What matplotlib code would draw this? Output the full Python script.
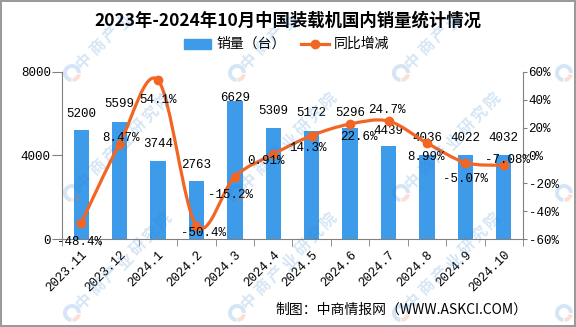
import numpy as np
import matplotlib.pyplot as plt
from matplotlib.path import Path
from matplotlib.patches import PathPatch, Wedge

plt.rcParams['font.family'] = ['Noto Sans CJK SC', 'DejaVu Sans']

months = ['2023.11', '2023.12', '2024.1', '2024.2', '2024.3', '2024.4',
          '2024.5', '2024.6', '2024.7', '2024.8', '2024.9', '2024.10']
sales = [5200, 5599, 3744, 2763, 6629, 5309, 5172, 5296, 4439, 4036, 4022, 4032]
yoy = [-48.4, 8.47, 54.1, -50.4, -15.2, 0.91, 14.3, 22.6, 24.7, 8.99, -5.07, -7.08]
yoy_text = ['-48.4%', '8.47%', '54.1%', '-50.4%', '-15.2%', '0.91%',
            '14.3%', '22.6%', '24.7%', '8.99%', '-5.07%', '-7.08%']

# label offsets in points (dx, dy)
pct_off = [(-1, -14), (1, 4), (0, -14), (5, -5), (-3, -13), (-5, -5),
           (-3, -9), (6, -9), (-1, 8), (-1, -10), (0, -12), (3, 4)]
bar_off = [12, 13, 12, 12, 2, 12, 13, 11, 11, 12, 12, 12]

bar_c = '#3d9be9'
line_c = '#f26522'
mono = ['Liberation Mono', 'DejaVu Sans Mono']

fig = plt.figure(figsize=(5.76, 3.27), dpi=100)
fig.patch.set_edgecolor('#9a9a9a')
fig.patch.set_linewidth(1.5)
ax = fig.add_axes([0.1076, 0.269, 0.8003, 0.511])
ax2 = ax.twinx()

x = np.arange(len(months))
ax.bar(x, sales, width=0.4, color=bar_c, zorder=2)
ax.set_xlim(-0.5, len(months) - 0.5)
ax.set_ylim(0, 8000)
ax.set_yticks([0, 4000, 8000])
ax.set_yticklabels(['0', '4000', '8000'], family=mono, fontsize=9)
ax.set_xticks(x)
ax.set_xticklabels(months, rotation=45, ha='right', rotation_mode='anchor',
                   family=mono, fontsize=9)
ax.set_xticks(np.arange(-0.5, len(months)), minor=True)
ax.tick_params(axis='x', which='major', length=0, pad=7)
ax.tick_params(axis='x', which='minor', length=5, color='#808080')
ax.tick_params(axis='y', length=7, color='#808080', pad=1)

for s in ['top', 'right']:
    ax.spines[s].set_visible(False)
    ax2.spines[s].set_visible(s == 'right')
for s in ['left', 'bottom']:
    ax.spines[s].set_color('#808080')
    ax2.spines[s].set_visible(False)
ax2.spines['right'].set_color('#808080')

for i, v in enumerate(sales):
    ax.annotate(str(v), (x[i], v), xytext=(0, bar_off[i]), textcoords='offset points',
                ha='center', va='center', family=mono, fontsize=9, zorder=5)

ax2.set_ylim(-60, 60)
ax2.set_yticks([-60, -40, -20, 0, 20, 40, 60])
ax2.set_yticklabels(['-60%', '-40%', '-20%', '0%', '20%', '40%', '60%'],
                    family=mono, fontsize=9)
ax2.tick_params(axis='y', length=3, color='#808080', pad=1)

# smooth line through the points (Catmull-Rom as Bezier curves)
pts = np.column_stack([x, yoy]).astype(float)
ext = np.vstack([pts[0], pts, pts[-1]])
verts = [pts[0]]
codes = [Path.MOVETO]
for i in range(len(pts) - 1):
    p0, p1, p2, p3 = ext[i], ext[i + 1], ext[i + 2], ext[i + 3]
    verts += [p1 + (p2 - p0) / 6, p2 - (p3 - p1) / 6, p2]
    codes += [Path.CURVE4] * 3
ax2.add_patch(PathPatch(Path(verts, codes), fill=False, edgecolor=line_c,
                        linewidth=2.3, zorder=3))
ax2.plot(x, yoy, 'o', color=line_c, markersize=6, zorder=4)

for i, t in enumerate(yoy_text):
    ax2.annotate(t, (x[i], yoy[i]), xytext=pct_off[i], textcoords='offset points',
                 ha='center', va='center', family=mono, fontsize=9, zorder=5)

fig.text(0.5, 1 - 21 / 327, '2023年-2024年10月中国装载机国内销量统计情况',
         ha='center', va='center', fontsize=12.5, fontweight='bold')

# legend and footer, drawn on an overlay in pixel units
ov = fig.add_axes([0, 0, 1, 1], zorder=10)
ov.set_xlim(0, 576)
ov.set_ylim(327, 0)
ov.axis('off')
ov.add_patch(plt.Rectangle((184, 39), 27, 10, color=bar_c))
ov.text(216, 44, '销量（台）', va='center', fontsize=10)
ov.plot([301, 329], [44, 44], color=line_c, linewidth=2.3)
ov.plot([315], [44], 'o', color=line_c, markersize=6)
ov.text(334, 44, '同比增减', va='center', fontsize=10)
ov.text(527, 310, '制图：中商情报网（WWW.ASKCI.COM）', ha='right', va='center',
        fontsize=10)

# watermark
wm = '中商产业研究院'
for x0 in [-92, 72, 237, 401, 564]:
    for y0 in [73, 193, 313]:
        ov.add_patch(Wedge((x0, y0), 9, 95, 360, width=4, color='#2f80d0',
                           alpha=0.2, lw=0))
        ov.add_patch(Wedge((x0, y0), 9, 10, 85, width=4, color='#f07040',
                           alpha=0.22, lw=0))
        for k, ch in enumerate(wm):
            cx = x0 + 12 + 13.4 * k
            cy = y0 - 12 - 13.4 * k
            if 10 < cx < 566 and 10 < cy < 317:
                ov.text(cx, cy, ch, rotation=45, ha='center', va='center',
                        fontsize=11.5, fontweight='bold', color='#2f80d0',
                        alpha=0.2)

fig.savefig('out.png', dpi=100)
